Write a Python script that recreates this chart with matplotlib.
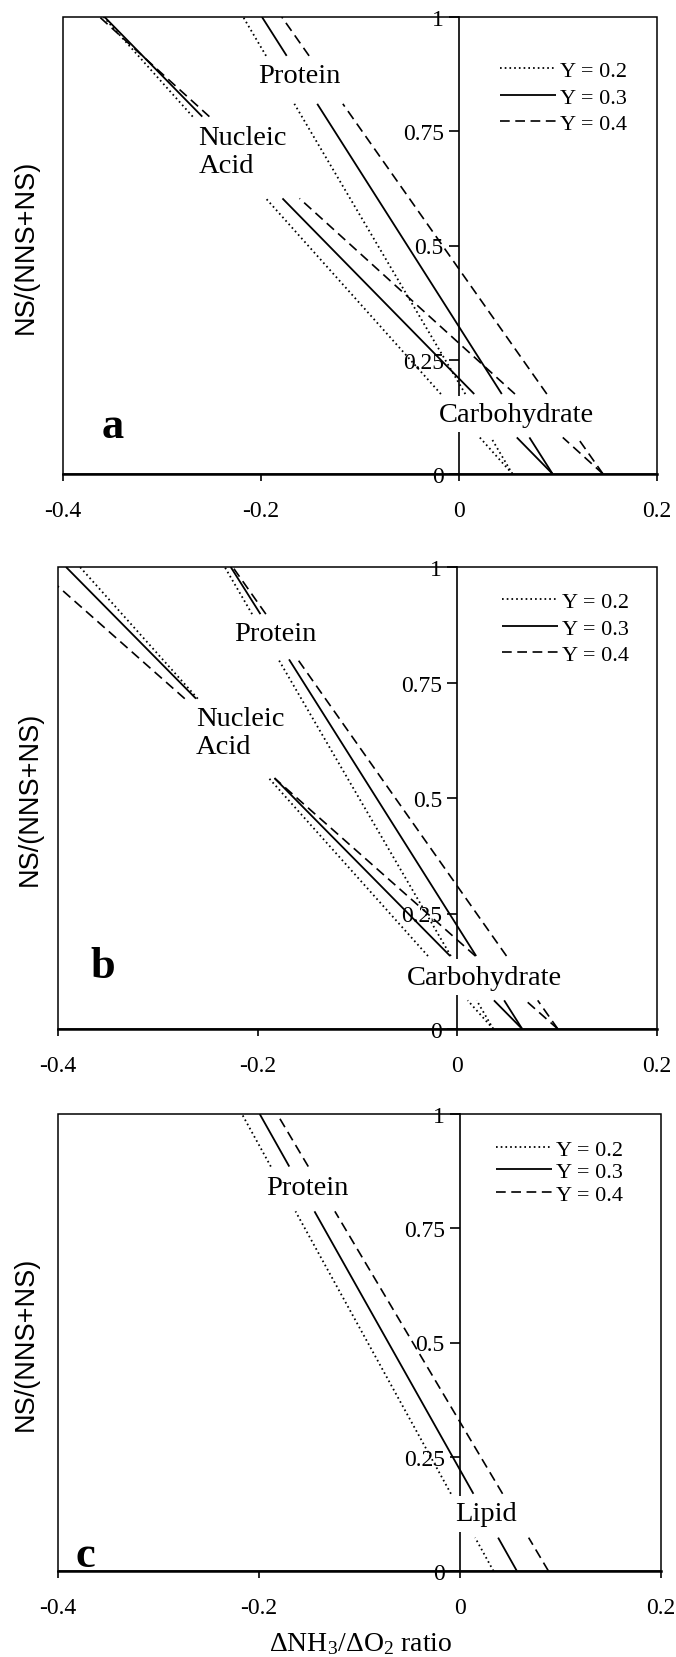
import numpy as np
import matplotlib
matplotlib.use("Agg")
import matplotlib.pyplot as plt
from matplotlib.patches import Rectangle

plt.rcParams['font.family'] = ['Liberation Serif', 'DejaVu Serif']
plt.rcParams['axes.unicode_minus'] = False
plt.rcParams['mathtext.fontset'] = 'custom'
plt.rcParams['mathtext.rm'] = 'Liberation Serif'
plt.rcParams['mathtext.it'] = 'Liberation Serif:italic'
plt.rcParams['lines.scale_dashes'] = False

# ---------------- data ----------------
y_levels = [0.2, 0.3, 0.4]
legend_labels = ['Y = 0.2', 'Y = 0.3', 'Y = 0.4']
x_ticks = [-0.4, -0.2, 0, 0.2]
x_tick_labels = ['-0.4', '-0.2', '0', '0.2']
y_ticks = [0, 0.25, 0.5, 0.75, 1]
y_tick_labels = ['0', '0.25', '0.5', '0.75', '1']

# dNH3/dO2 ratio where each line reaches NS/(NNS+NS) = 1 (N-substrate) and = 0 (non-N substrate)
a_protein_x = [-0.218, -0.199, -0.179]
a_nucleic_x = [-0.359, -0.358, -0.363]
a_carbohydrate_x = [0.054, 0.0946, 0.1455]

b_protein_x = [-0.233, -0.227, -0.225]
b_nucleic_x = [-0.378, -0.392, -0.422]
b_carbohydrate_x = [0.036, 0.065, 0.1007]

c_protein_x = [-0.217, -0.1993, -0.182]
c_lipid_x = [0.0333, 0.0566, 0.088]

# ---------------- layout / style ----------------
FIG_W, FIG_H = 676, 1658
panel_px = {  # left, top, right, bottom in pixels
    'a': (63, 18, 657, 475),
    'b': (58, 568, 657, 1030),
    'c': (58, 1115, 661, 1572),
}
# visible y-ranges of the line segments (gaps behind labels)
a_protein_spans = [(0.915, 1.0), (0.175, 0.81), (0.0, 0.08)]
a_nucleic_spans = [(0.782, 1.0), (0.175, 0.603), (0.0, 0.08)]
b_protein_spans = [(0.898, 1.0), (0.158, 0.80), (0.0, 0.062)]
b_nucleic_spans = [(0.715, 1.0), (0.158, 0.543), (0.0, 0.062)]
c_protein_spans = [(0.885, 1.0), (0.169, 0.787), (0.0, 0.073)]

styles = [
    dict(color='black', lw=1.3, ls=(0, (1.2, 2.2))),
    dict(color='black', lw=1.3, ls='-'),
    dict(color='black', lw=1.2, ls=(0, (7, 4))),
]

fig = plt.figure(figsize=(FIG_W / 100, FIG_H / 100), dpi=100)

tick_fs = 17
label_fs = 20.5
legend_fs = 16


def make_axes(key):
    l, t, r, b = panel_px[key]
    ax = fig.add_axes([l / FIG_W, (FIG_H - b) / FIG_H, (r - l) / FIG_W, (b - t) / FIG_H])
    ax.set_xlim(-0.4, 0.2)
    ax.set_ylim(0, 1)
    ax.spines['left'].set_position(('data', 0))
    ax.spines['left'].set_linewidth(1.2)
    ax.spines['left'].set_zorder(2.5)
    ax.spines['top'].set_visible(False)
    ax.spines['right'].set_visible(False)
    ax.spines['bottom'].set_linewidth(1.8)
    ax.add_patch(Rectangle((0, 0), 1, 1, transform=ax.transAxes, fill=False,
                           lw=1.1, ec='black', clip_on=False, zorder=2.5))
    ax.set_xticks(x_ticks)
    ax.set_xticklabels(x_tick_labels)
    ax.set_yticks(y_ticks)
    ax.set_yticklabels(y_tick_labels)
    ax.tick_params(axis='x', direction='out', length=5, width=1.2, pad=13.5, labelsize=tick_fs)
    ax.tick_params(axis='y', direction='out', length=7.5, width=1.2, pad=3.5, labelsize=tick_fs)
    return ax


def draw_group(ax, x_top, x_bottom, spans):
    handles = []
    for xt, xb, st in zip(x_top, x_bottom, styles):
        ln = None
        for lo, hi in spans:
            ys = np.array([lo, hi])
            xs = xb + (xt - xb) * ys
            ln, = ax.plot(xs, ys, zorder=4, solid_capstyle='butt',
                          dash_capstyle='butt', **st)
        handles.append(ln)
    return handles


def add_legend(ax, handles, anchor, spacing):
    ax.legend(handles, legend_labels, loc='upper left', bbox_to_anchor=anchor,
              frameon=False, fontsize=legend_fs, handlelength=2.52, handletextpad=0.2,
              borderpad=0, borderaxespad=0, labelspacing=spacing)


def add_ylabel(ax, xpos):
    ax.set_ylabel('NS/(NNS+NS)', fontsize=19.5, family=['Liberation Sans', 'DejaVu Sans'])
    ax.yaxis.label.set_va('center')
    ax.yaxis.set_label_coords(xpos, 0.5)


white_box = dict(boxstyle='square,pad=0.2', fc='white', ec='none')

# ---------------- panel a ----------------
ax = make_axes('a')
draw_group(ax, a_nucleic_x, a_carbohydrate_x, a_nucleic_spans)
h = draw_group(ax, a_protein_x, a_carbohydrate_x, a_protein_spans)
ax.text(-0.1617, 0.872, 'Protein', fontsize=label_fs, ha='center', va='center')
ax.text(-0.2632, 0.705, 'Nucleic\nAcid', fontsize=label_fs, ha='left', va='center',
        multialignment='left', linespacing=1.15)
ax.text(0.0584, 0.131, 'Carbohydrate', fontsize=label_fs, ha='center', va='center',
        bbox=white_box, zorder=3)
ax.text(-0.3495, 0.081, 'a', fontsize=32, fontweight='bold', ha='center', va='baseline')
add_legend(ax, h, (0.735, 0.905), 0.27)
add_ylabel(ax, -0.0623)

# ---------------- panel b ----------------
ax = make_axes('b')
draw_group(ax, b_nucleic_x, b_carbohydrate_x, b_nucleic_spans)
h = draw_group(ax, b_protein_x, b_carbohydrate_x, b_protein_spans)
ax.text(-0.182, 0.856, 'Protein', fontsize=label_fs, ha='center', va='center')
ax.text(-0.2619, 0.641, 'Nucleic\nAcid', fontsize=label_fs, ha='left', va='center',
        multialignment='left', linespacing=1.15)
ax.text(0.0273, 0.112, 'Carbohydrate', fontsize=label_fs, ha='center', va='center',
        bbox=white_box, zorder=3)
ax.text(-0.3555, 0.112, 'b', fontsize=32, fontweight='bold', ha='center', va='baseline')
add_legend(ax, h, (0.741, 0.947), 0.27)
add_ylabel(ax, -0.0467)

# ---------------- panel c ----------------
ax = make_axes('c')
h = draw_group(ax, c_protein_x, c_lipid_x, c_protein_spans)
ax.text(-0.1523, 0.839, 'Protein', fontsize=label_fs, ha='center', va='center')
ax.text(0.0255, 0.125, 'Lipid', fontsize=label_fs, ha='center', va='center',
        bbox=white_box, zorder=3)
ax.text(-0.373, 0.012, 'c', fontsize=32, fontweight='bold', ha='center', va='baseline')
add_legend(ax, h, (0.726, 0.945), 0.09)
add_ylabel(ax, -0.053)
ax.set_xlabel('ΔNH$_3$/ΔO$_2$ ratio', fontsize=20)
ax.xaxis.label.set_va('center')
ax.xaxis.set_label_coords(0.5017, -72 / 457)

fig.savefig('out.png', dpi=100)
